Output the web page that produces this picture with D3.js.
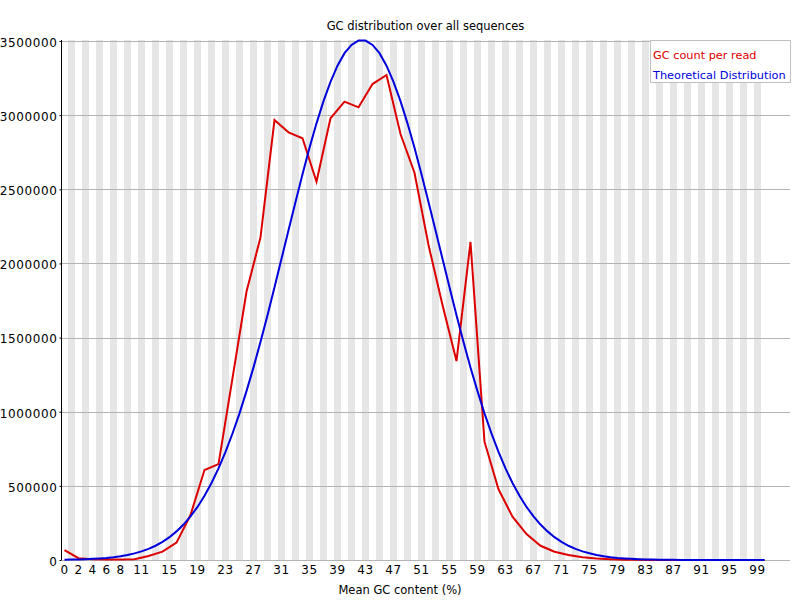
<!DOCTYPE html>
<html>
<head>
<meta charset="utf-8">
<script src="https://cdn.jsdelivr.net/npm/d3@7"></script>
<style>
  html, body { margin: 0; padding: 0; background: #fff; }
  svg { display: block; font-family: "DejaVu Sans", sans-serif; }
</style>
</head>
<body>
<svg id="chart" width="800" height="600"></svg>
<script>
// ---- data ----
const gcBins = d3.range(0, 101);               // categories: mean GC content 0..100 %
const xTickLabels = [0, 2, 4, 6, 8, 11, 15, 19, 23, 27, 31, 35, 39, 43, 47, 51, 55, 59, 63, 67, 71, 75, 79, 83, 87, 91, 95, 99];
const yTickValues = [0, 500000, 1000000, 1500000, 2000000, 2500000, 3000000, 3500000];
const yMax = 3507000;

// observed "GC count per read" (measured at even GC bins)
const countBins = [0, 2, 4, 6, 8, 10, 12, 14, 16, 18, 20, 22, 24, 26, 28, 30, 32, 34, 36, 38, 40, 42, 44, 46, 48, 50,
  52, 54, 56, 58, 60, 62, 64, 66, 68, 70, 72, 74, 76, 78, 80, 82, 84, 86, 88, 90, 92, 94, 96, 98, 100];
const countValues = [67000, 12000, 5000, 3000, 3000, 5000, 27000, 56000, 117000, 303000, 607000, 647000, 1227000, 1809000,
  2176000, 2967000, 2884000, 2844000, 2551000, 2979000, 3091000, 3053000, 3210000, 3271000, 2873000, 2612000,
  2124000, 1720000, 1342000, 2145000, 798000, 477000, 292000, 175000, 96000, 56000, 34000, 18000, 10000, 5000,
  2000, 1000, 500, 300, 200, 100, 100, 50, 50, 20, 10];

// theoretical distribution, one value per GC bin 0..100
const theoryValues = [2000, 3000, 4000, 5600, 7700, 10500, 14300, 19200, 25600, 34000,
  44600, 58100, 75000, 96200, 122000, 154000, 193000, 239000, 294000, 358000,
  433000, 519000, 618000, 729000, 853000, 989000, 1139000, 1299000, 1471000, 1651000,
  1839000, 2031000, 2224000, 2415000, 2602000, 2780000, 2945000, 3095000, 3225000, 3334000,
  3418000, 3474000, 3503000, 3503000, 3474000, 3418000, 3334000, 3225000, 3095000, 2945000,
  2780000, 2602000, 2415000, 2224000, 2031000, 1839000, 1651000, 1471000, 1299000, 1139000,
  989000, 853000, 729000, 618000, 519000, 433000, 358000, 294000, 239000, 193000,
  154000, 122000, 96000, 75000, 58000, 45000, 34000, 26000, 19000, 14000,
  10500, 7700, 5600, 4000, 2900, 2000, 1400, 900, 600, 400,
  260, 170, 110, 70, 40, 25, 15, 10, 5, 3, 2];

const seriesNames = ["GC count per read", "Theoretical Distribution"];
const seriesColors = ["#dc0000", "#0000dc"];

// ---- layout ----
const svg = d3.select("#chart");
const plotLeft = 61, plotRight = 768, gridRight = 790, plotTop = 40, plotBottom = 560;

const x = d3.scaleBand().domain(gcBins).range([plotLeft, plotRight]).padding(0);
const xc = v => x(v) + x.bandwidth() / 2;
const y = d3.scaleLinear().domain([0, yMax]).range([plotBottom, plotTop]);

// stripes
svg.append("g").selectAll("rect")
  .data(gcBins.filter(d => d % 2 === 1))
  .join("rect")
  .attr("x", d => x(d)).attr("y", plotTop)
  .attr("width", x.bandwidth()).attr("height", plotBottom - plotTop)
  .attr("fill", "#e6e6e6");

// horizontal grid
svg.append("g").selectAll("line")
  .data(yTickValues)
  .join("line")
  .attr("x1", plotLeft).attr("x2", gridRight)
  .attr("y1", d => Math.round(y(d)) + 0.5).attr("y2", d => Math.round(y(d)) + 0.5)
  .attr("stroke", "#b4b4b4").attr("stroke-width", 1);

// y axis
const yAxis = svg.append("g")
  .attr("transform", `translate(${plotLeft + 0.5},0)`)
  .call(d3.axisLeft(y).tickValues(yTickValues).tickSize(2).tickPadding(2).tickFormat(d3.format("d")));
yAxis.select(".domain").attr("d", `M0,${plotTop}V${plotBottom}`).attr("stroke", "#000");
yAxis.selectAll(".tick line").attr("stroke", "#000");
yAxis.selectAll("text")
  .attr("font-size", "12px").attr("letter-spacing", "0.6px")
  .attr("fill", "#000").attr("dy", "0.45em")
  .attr("font-family", "DejaVu Sans");

// x axis labels
const xAxis = svg.append("g")
  .attr("transform", `translate(0,${plotBottom})`)
  .call(d3.axisBottom(x).tickValues(xTickLabels).tickSize(0).tickPadding(5));
xAxis.select(".domain").remove();
xAxis.selectAll("text")
  .attr("font-size", "12px").attr("letter-spacing", "0.6px")
  .attr("fill", "#000").attr("font-family", "DejaVu Sans");

// lines
const line = d3.line().x(d => xc(d[0])).y(d => y(d[1]));
svg.append("path")
  .datum(countBins.map((b, i) => [b, countValues[i]]))
  .attr("d", line).attr("fill", "none")
  .attr("stroke", seriesColors[0]).attr("stroke-width", 2).attr("stroke-linejoin", "miter");
svg.append("path")
  .datum(gcBins.map((b, i) => [b, theoryValues[i]]))
  .attr("d", line).attr("fill", "none")
  .attr("stroke", seriesColors[1]).attr("stroke-width", 2);

// title & x label
svg.append("text").attr("x", (plotLeft + gridRight) / 2).attr("y", 30)
  .attr("text-anchor", "middle").attr("font-size", "11.5px").attr("fill", "#000")
  .text("GC distribution over all sequences");
svg.append("text").attr("x", 400).attr("y", 594)
  .attr("text-anchor", "middle").attr("font-size", "11.5px").attr("fill", "#000")
  .text("Mean GC content (%)");

// legend
const lg = svg.append("g");
lg.append("rect").attr("x", 650.5).attr("y", 40.5).attr("width", 140).attr("height", 42)
  .attr("fill", "#fff").attr("stroke", "#c0c0c0");
lg.selectAll("text").data(seriesNames).join("text")
  .attr("x", 653).attr("y", (d, i) => 59 + i * 20)
  .attr("font-size", "11.3px").attr("fill", (d, i) => seriesColors[i])
  .text(d => d);
</script>
</body>
</html>
